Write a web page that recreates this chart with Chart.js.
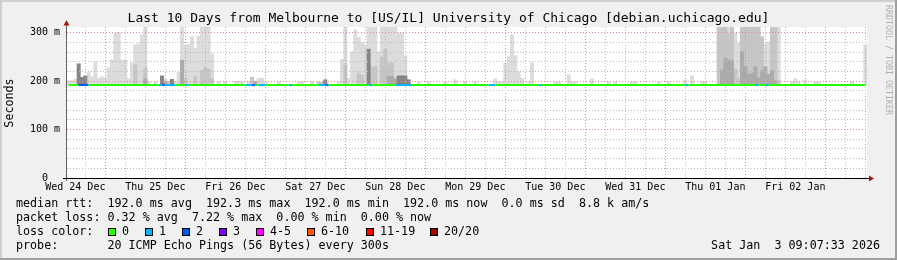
<!DOCTYPE html>
<html>
<head>
<meta charset="utf-8">
<script src="https://cdn.jsdelivr.net/npm/chart.js@4.4.1/dist/chart.umd.min.js"></script>
<style>
  html, body { margin: 0; padding: 0; background: #f0f0f0; }
  canvas { display: block; }
</style>
</head>
<body>
<canvas id="smoke" width="897" height="260"></canvas>
<script>
// SMOKEPING 10 DAYS - Melbourne -> debian.uchicago.edu
// one value per hour, graph starts 09:30 Wed 24 Dec

const startHour = 9.5;   // hours after Wed 24 Dec 00:00
const dayLabels = ['Wed 24 Dec','Thu 25 Dec','Fri 26 Dec','Sat 27 Dec','Sun 28 Dec',
                   'Mon 29 Dec','Tue 30 Dec','Wed 31 Dec','Thu 01 Jan','Fri 02 Jan'];
const rttLabels = ['0  ', '100 m', '200 m', '300 m'];

// median rtt (ms)
const medianRtt = [
  192,192,192,192,192.3,192,192,192,192,192, 192,192,192,192,192,192,192,192,192,192,
  192,192,192,192,192,192,192,192,192,192, 192,192,192,192,192,192,192,192,192,192,
  192,192,192,192,192,192,192,192,192,192, 192,192,192,192,192,192,192,192,192,192,
  192,192,192,192,192,192,192,192,192,192, 192,192,192,192,192,192,192,192,192,192,
  192,192,192,192,192,192,192,192,192,192, 192,192,192,192,192,192,192,192,192,192,
  192,192,192,192,192,192,192,192,192,192, 192,192,192,192,192,192,192,192,192,192,
  192,192,192,192,192,192,192,192,192,192, 192,192,192,192,192,192,192,192,192,192,
  192,192,192,192,192,192,192,192,192,192, 192,192,192,192,192,192,192,192,192,192,
  192,192,192,192,192,192,192,192,192,192, 192,192,192,192,192,192,192,192,192,192,
  192,192,192,192,192,192,192,192,192,192, 192,192,192,192,192,192,192,192,192,192,
  192,192,192,192,192,192,192,192,192,192, 192,192,192,192,192,192,192,192,192,192,
  192,192,192,192,192,192,192,192,192,192, 192,192,192,192,192,192,192,192,192,192
];

// lost pings out of 20 (hourly average)
const lossPings = [
  0,0,0,1.2,1.44,1.1,0,0,0,0,  0,0,0,0,0,0,0,0,0,0,
  0,0,0,0,0,0,0,0.3,1.2,0.4,  0.2,0.3,0,0,0,0.2,0,0,0,0,
  0,0,0,0,0,0,0,0,0,0,  0,0,0,0.3,0.4,1.3,0,0.3,0.2,0,
  0,0,0,0,0,0,0.2,0,0,0,  0,0,0,0,0,0.3,0.4,1.1,0,0,
  0,0,0,0,0,0,0,0,0,0,  0.2,0,0,0,0,0,0,0,0.3,0.4,
  0.5,0.3,0.2,0,0,0,0,0,0,0,  0,0,0,0,0,0,0,0,0,0,
  0,0,0,0,0,0,0.2,0.3,0,0,  0,0,0,0,0,0,0,0,0,0,
  0,0.2,0,0,0,0,0,0,0,0,  0,0,0,0,0,0,0,0,0,0,
  0,0,0,0,0,0,0,0,0,0,  0,0,0,0,0,0,0,0,0,0,
  0,0,0,0,0,0.2,0,0,0,0,  0,0,0,0,0,0,0,0,0,0,
  0,0,0,0,0,0,0.2,0,0,0.2,  0,0,0,0,0,0,0,0,0,0,
  0,0,0,0,0,0,0,0,0,0,  0,0,0,0,0,0,0,0,0,0
];

// smoke: top of each grey band (ms), 0 = none
const smokeLight = [
  201,201,204,0,0,0,218,209,240,206,  209,207,228,244,299,301,244,244,205,238,
  275,277,296,330,199,0,199,0,0,204,  0,0,199,218,330,275,276,292,268,293,
  330,330,330,256,0,199,0,199,0,0,  200,200,199,0,200,0,0,206,206,200,
  0,0,0,199,0,0,0,0,0,199,  199,0,0,200,0,0,0,0,0,0,
  0,199,245,330,205,261,306,290,280,275,  330,330,330,261,330,330,330,330,330,300,
  300,252,0,0,0,199,0,0,199,0,  0,0,0,199,0,0,203,0,0,200,
  0,0,199,0,0,0,0,0,205,199,  199,237,251,296,253,220,206,0,199,238,
  0,0,0,0,0,0,199,199,0,0,  213,199,199,0,0,0,0,205,0,0,
  0,0,199,0,199,0,0,0,0,199,  199,0,0,0,0,0,0,199,0,0,
  199,0,0,0,0,203,0,211,0,0,  199,199,0,0,0,0,0,0,330,0,
  300,279,0,0,0,0,0,0,0,277,  280,0,0,330,0,0,0,199,205,199,
  0,203,0,0,199,199,0,0,0,0,  0,0,0,0,0,199,0,0,0,275
];
const smokeMid = [
  0,0,0,0,0,0,0,0,0,0,  0,0,0,0,0,0,0,0,0,0,
  234,0,0,227,0,0,0,0,0,0,  200,0,0,0,0,206,0,0,210,0,
  222,228,225,205,0,0,0,0,0,0,  0,0,0,0,0,208,0,0,0,0,
  0,0,0,0,0,0,0,0,0,0,  0,0,0,0,0,198,198,0,0,0,
  0,0,0,234,0,0,0,217,212,0,  0,230,230,0,250,266,238,238,0,0,
  0,0,0,0,0,0,0,0,0,0,  0,0,0,0,0,0,0,0,0,0,
  0,0,0,0,0,0,0,0,0,0,  0,0,0,0,0,0,0,0,0,0,
  0,0,0,0,0,0,0,0,0,0,  0,0,0,0,0,0,0,0,0,0,
  0,0,0,0,0,0,0,0,0,0,  0,0,0,0,0,0,0,0,0,0,
  0,0,0,0,0,0,0,0,0,0,  0,0,0,0,0,330,330,330,298,330,
  225,205,330,330,330,330,330,320,292,0,  0,330,330,201,0,0,0,0,0,0,
  0,0,0,0,0,0,0,0,0,0,  0,0,0,0,0,0,0,0,0,0
];
const smokeDark = [
  0,0,0,0,0,0,0,0,0,0,  0,0,0,0,0,0,0,0,0,0,
  0,0,0,205,0,0,0,0,0,200,  0,0,0,0,243,0,0,0,0,0,
  0,0,0,0,0,0,0,0,0,0,  0,0,0,0,0,0,200,0,0,0,
  0,0,0,0,0,0,0,0,0,0,  0,0,0,0,0,0,0,0,0,0,
  0,0,0,0,0,0,0,0,0,0,  0,0,0,0,0,0,210,210,205,0,
  0,0,0,0,0,0,0,0,0,0,  0,0,0,0,0,0,0,0,0,0,
  0,0,0,0,0,0,0,0,0,0,  0,0,0,0,0,0,0,0,0,0,
  0,0,0,0,0,0,0,0,0,0,  0,0,0,0,0,0,0,0,0,0,
  0,0,0,0,0,0,0,0,0,0,  0,0,0,0,0,0,0,0,0,0,
  0,0,0,0,0,0,0,0,0,0,  0,0,0,0,0,0,223,248,244,243,
  0,0,261,230,215,216,230,207,222,230,  215,222,201,0,0,0,0,0,0,0,
  0,0,0,0,0,0,0,0,0,0,  0,0,0,0,0,0,0,0,0,0
];
const smokeDarkest = [
  0,0,0,236,208,211,0,0,0,0,  0,0,0,0,0,0,0,0,0,0,
  0,0,0,0,0,0,0,0,211,0,  0,204,0,0,0,0,0,0,0,0,
  0,0,0,0,0,0,0,0,0,0,  0,0,0,0,0,0,0,0,0,0,
  0,0,0,0,0,0,0,0,0,0,  0,0,0,0,0,0,0,203,0,0,
  0,0,0,0,0,0,0,0,0,0,  266,0,0,0,0,0,0,0,0,211,
  211,211,203,0,0,0,0,0,0,0,  0,0,0,0,0,0,0,0,0,0,
  0,0,0,0,0,0,0,0,0,0,  0,0,0,0,0,0,0,0,0,0,
  0,0,0,0,0,0,0,0,0,0,  0,0,0,0,0,0,0,0,0,0,
  0,0,0,0,0,0,0,0,0,0,  0,0,0,0,0,0,0,0,0,0,
  0,0,0,0,0,0,0,0,0,0,  0,0,0,0,0,0,0,0,0,0,
  0,0,0,0,0,0,0,0,0,0,  0,0,0,0,0,0,0,0,0,0,
  0,0,0,0,0,0,0,0,0,0,  0,0,0,0,0,0,0,0,0,0
];

// loss colour legend
const lossBuckets = [0, 1, 2, 3, 5, 10, 19, 20];
const lossNames   = ['0', '1', '2', '3', '4-5', '6-10', '11-19', '20/20'];
const lossColors  = ['#26ff00', '#00b8ff', '#0059ff', '#7e00ff', '#ff00ff', '#ff5500', '#ff0000', '#a00000'];

const legendRows = [
  'median rtt:  192.0 ms avg  192.3 ms max  192.0 ms min  192.0 ms now  0.0 ms sd  8.8 k am/s',
  'packet loss: 0.32 % avg  7.22 % max  0.00 % min  0.00 % now',
  'loss color:',
  'probe:       20 ICMP Echo Pings (56 Bytes) every 300s'
];
const stamp = 'Sat Jan  3 09:07:33 2026';
const title = 'Last 10 Days from Melbourne to [US/IL] University of Chicago [debian.uchicago.edu]';

const MONO = '"DejaVu Sans Mono", "Liberation Mono", monospace';
const GRID = '#b9b9b9';
const MGRID = '#e48a8a';

const hours = medianRtt.map((_, i) => startHour + i + 0.5);

function lossColor(p) {
  let k = lossBuckets.findIndex(b => p <= b);
  if (k < 0) k = lossBuckets.length - 1;
  return lossColors[k];
}

function smokeSet(values, color, order) {
  return {
    type: 'bar',
    data: values.map((v, i) => v ? {x: hours[i], y: [medianRtt[i], v]} : null).filter(Boolean),
    backgroundColor: color,
    borderWidth: 0,
    barPercentage: 1,
    categoryPercentage: 1,
    grouped: false,
    order: order
  };
}

const rrdFrame = {
  id: 'rrdFrame',
  beforeDraw(chart) {
    const {ctx, width, height, chartArea: a} = chart;
    ctx.save();
    ctx.fillStyle = '#f0f0f0';
    ctx.fillRect(0, 0, width, height);
    ctx.fillStyle = '#cfcfcf';
    ctx.fillRect(0, 0, width, 2);
    ctx.fillRect(0, 0, 2, height);
    ctx.fillStyle = '#9e9e9e';
    ctx.fillRect(0, height - 2, width, 2);
    ctx.fillRect(width - 2, 0, 2, height);
    ctx.fillStyle = '#ffffff';
    ctx.fillRect(a.left, a.top, a.right - a.left, a.bottom - a.top);
    ctx.restore();
  },
  beforeDatasetDraw(chart, args) {
    // the median line goes on top of the grid, see afterDraw
    if (args.meta.type === 'line') return false;
  },
  afterDraw(chart) {
    const {ctx, chartArea: a} = chart;
    ctx.save();
    ctx.beginPath();
    ctx.rect(a.left, a.top, a.right - a.left, a.bottom - a.top);
    ctx.clip();
    chart.data.datasets.forEach((ds, i) => {
      if (ds.type === 'line') chart.getDatasetMeta(i).controller.draw();
    });
    ctx.restore();

    ctx.save();
    // axes
    ctx.lineWidth = 1;
    ctx.strokeStyle = '#606060';
    ctx.beginPath();
    ctx.moveTo(a.left - 0.5, a.bottom + 3);
    ctx.lineTo(a.left - 0.5, 24);
    ctx.stroke();
    ctx.strokeStyle = '#000';
    ctx.beginPath();
    ctx.moveTo(a.left - 4, a.bottom + 0.5);
    ctx.lineTo(a.right + 3, a.bottom + 0.5);
    ctx.stroke();
    ctx.fillStyle = '#a01818';
    ctx.beginPath();
    ctx.moveTo(a.left - 0.5, 20);
    ctx.lineTo(a.left - 3.5, 25.5);
    ctx.lineTo(a.left + 2.5, 25.5);
    ctx.closePath();
    ctx.fill();
    ctx.beginPath();
    ctx.moveTo(a.right + 7, a.bottom + 0.5);
    ctx.lineTo(a.right + 2, a.bottom - 2.5);
    ctx.lineTo(a.right + 2, a.bottom + 3.5);
    ctx.closePath();
    ctx.fill();

    // title
    ctx.fillStyle = '#000';
    ctx.textBaseline = 'middle';
    ctx.textAlign = 'center';
    ctx.font = '13px ' + MONO;
    ctx.fillText(title, 448.5, 19);

    // vertical label
    ctx.save();
    ctx.translate(10, 103);
    ctx.rotate(-Math.PI / 2);
    ctx.font = '11.7px ' + MONO;
    ctx.fillText('Seconds', 0, 0);
    ctx.restore();

    // watermark
    ctx.save();
    ctx.translate(888, 5);
    ctx.rotate(Math.PI / 2);
    ctx.textAlign = 'left';
    ctx.fillStyle = '#b0b0b0';
    ctx.font = '8.3px ' + MONO;
    ctx.fillText('RRDTOOL / TOBI OETIKER', 0, 0);
    ctx.restore();

    // legend
    ctx.font = '11.7px ' + MONO;
    ctx.textAlign = 'left';
    legendRows.forEach((row, k) => ctx.fillText(row, 16, 204 + k * 14));
    const swatchX = [108, 145, 182, 219, 256, 307, 366, 430];
    const nameX = [122, 159, 196, 233, 270, 321, 380, 444];
    lossNames.forEach((name, k) => {
      ctx.fillStyle = lossColors[k];
      ctx.fillRect(swatchX[k], 228, 8, 8);
      ctx.strokeStyle = '#000';
      ctx.strokeRect(swatchX[k] + 0.5, 228.5, 7, 7);
      ctx.fillStyle = '#000';
      ctx.fillText(name, nameX[k], 232);
    });
    ctx.textAlign = 'right';
    ctx.fillText(stamp, 880, 246);
    ctx.restore();
  }
};

const smoke = document.getElementById('smoke');

new Chart(smoke, {
  type: 'bar',
  data: {
    datasets: [
      {
        type: 'line',
        data: medianRtt.map((v, i) => ({x: hours[i], y: v})),
        borderColor: lossColors[0],
        borderWidth: 2,
        pointRadius: 0,
        tension: 0,
        segment: {
          borderColor: c => lossColor(lossPings[c.p0DataIndex])
        },
        order: 0
      },
      smokeSet(smokeDarkest, '#858585', 1),
      smokeSet(smokeDark, '#ababab', 2),
      smokeSet(smokeMid, '#c6c6c6', 3),
      smokeSet(smokeLight, '#dcdcdc', 4)
    ]
  },
  options: {
    responsive: false,
    animation: false,
    devicePixelRatio: 1,
    layout: { padding: { top: 27, right: 30, bottom: 0, left: 0 } },
    plugins: { legend: { display: false }, tooltip: { enabled: false }, title: { display: false } },
    scales: {
      x: {
        type: 'linear',
        min: startHour,
        max: startHour + medianRtt.length,
        offset: false,
        afterBuildTicks: s => {
          const t = [];
          for (let h = 12; h < s.max; h += 6) t.push({value: h});
          s.ticks = t;
        },
        afterFit: s => { s.height = 82; },
        grid: {
          color: c => (c.tick && c.tick.value % 24 === 0) ? MGRID : GRID,
          drawTicks: false,
          z: 1
        },
        border: { display: false, dash: [1, 2] },
        ticks: {
          autoSkip: false,
          maxRotation: 0,
          minRotation: 0,
          padding: 3,
          color: '#000',
          font: { family: MONO, size: 10 },
          callback: v => {
            const d = (v - 12) / 24;
            return Number.isInteger(d) ? (dayLabels[d] || '') : '';
          }
        }
      },
      y: {
        min: 0,
        max: 312,
        afterBuildTicks: s => {
          const t = [];
          for (let v = 0; v <= 300; v += 20) t.push({value: v});
          s.ticks = t;
        },
        afterFit: s => { s.width = 67; },
        grid: {
          color: c => (c.tick && c.tick.value % 100 === 0) ? MGRID : GRID,
          drawTicks: false,
          z: 1
        },
        border: { display: false, dash: [1, 2] },
        ticks: {
          autoSkip: false,
          padding: 7,
          color: '#000',
          font: { family: MONO, size: 10 },
          callback: v => (v % 100 === 0) ? rttLabels[v / 100] : ''
        }
      }
    }
  },
  plugins: [rrdFrame]
});
</script>
</body>
</html>
